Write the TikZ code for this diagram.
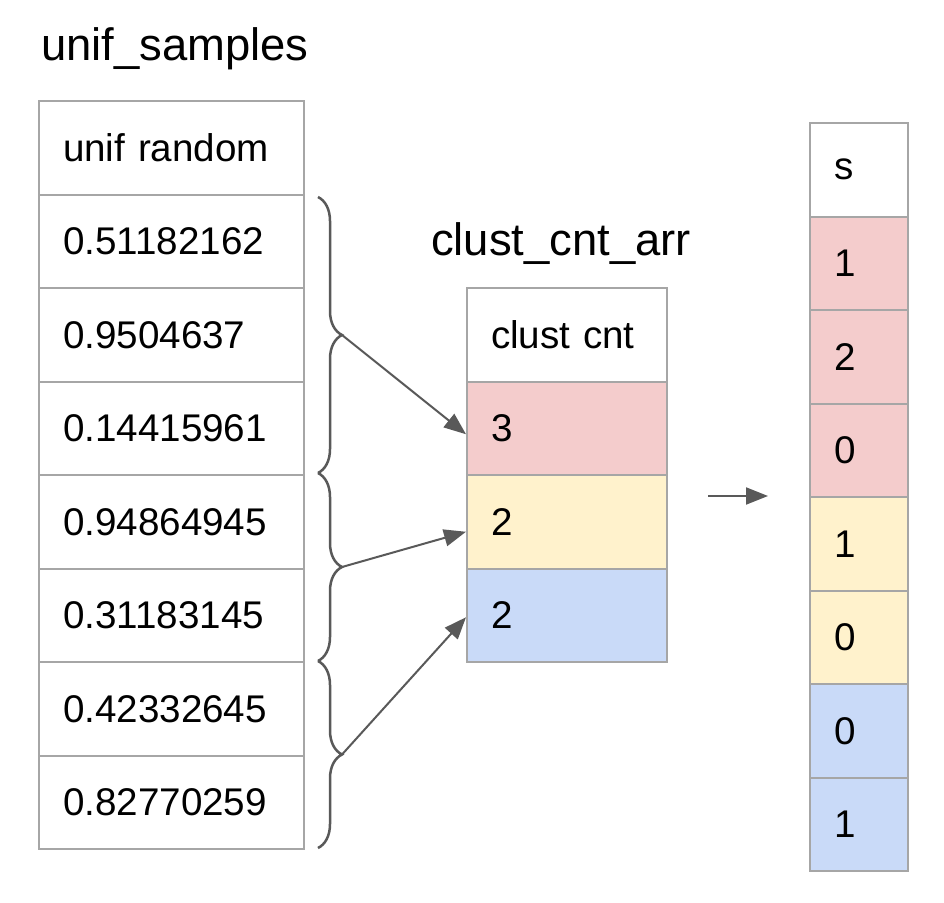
\documentclass[tikz,border=0pt]{standalone}
\usepackage{fontspec}
\setmainfont{Liberation Sans}
\usetikzlibrary{decorations.pathreplacing,arrows.meta}
\definecolor{cellborder}{HTML}{A6A6A6}
\definecolor{linegray}{HTML}{595959}
\definecolor{cpink}{HTML}{F4CCCC}
\definecolor{cyellow}{HTML}{FFF2CC}
\definecolor{cblue}{HTML}{C9DAF8}
\tikzset{
  cell/.style={draw=cellborder, line width=2pt, rectangle, anchor=north west,
    minimum height=93.5pt, inner xsep=24pt, inner ysep=0pt, align=left,
    font=\fontsize{38.6}{40}\selectfont},
  lcell/.style={cell, text width=217pt},
  mcell/.style={cell, text width=152pt},
  rcell/.style={cell, text width=50pt},
  ttl/.style={anchor=base west, inner sep=0pt, font=\fontsize{45.4}{48}\selectfont},
  brc/.style={draw=linegray, line width=2.5pt, decorate,
    decoration={brace, amplitude=24pt}},
  conn/.style={draw=linegray, line width=2pt, -{Triangle[length=22pt,width=17pt]}}
}
\begin{document}
\begin{tikzpicture}[x=1pt,y=-1pt]
\useasboundingbox (0,0) rectangle (944,902);
% titles
\node[ttl] (t1) at (41,60) {unif\_samples};
\node[ttl] (t2) at (431,255) {clust\_cnt\_arr};
% left table
\node[lcell] (l0) at (38,100) {unif random};
\node[lcell] (l1) at (38,193.5) {0.51182162};
\node[lcell] (l2) at (38,287) {0.9504637};
\node[lcell] (l3) at (38,380.5) {0.14415961};
\node[lcell] (l4) at (38,474) {0.94864945};
\node[lcell] (l5) at (38,567.5) {0.31183145};
\node[lcell] (l6) at (38,661) {0.42332645};
\node[lcell] (l7) at (38,754.5) {0.82770259};
% middle table
\node[mcell] (m0) at (466,287) {clust cnt};
\node[mcell, fill=cpink] (m1) at (466,380.5) {3};
\node[mcell, fill=cyellow] (m2) at (466,474) {2};
\node[mcell, fill=cblue] (m3) at (466,567.5) {2};
% right table
\node[rcell] (r0) at (809,122) {s};
\node[rcell, fill=cpink] (r1) at (809,215.5) {1};
\node[rcell, fill=cpink] (r2) at (809,309) {2};
\node[rcell, fill=cpink] (r3) at (809,402.5) {0};
\node[rcell, fill=cyellow] (r4) at (809,496) {1};
\node[rcell, fill=cyellow] (r5) at (809,589.5) {0};
\node[rcell, fill=cblue] (r6) at (809,683) {0};
\node[rcell, fill=cblue] (r7) at (809,776.5) {1};
% braces
\draw[brc] (318,197) -- (318,473);
\draw[brc] (318,473) -- (318,661);
\draw[brc] (318,661) -- (318,848);
\coordinate (b1) at (342,335);
\coordinate (b2) at (342,567);
\coordinate (b3) at (342,754.5);
\draw[conn] (b1) -- ([yshift=-6pt]m1.west);
\draw[conn] (b2) -- ([yshift=-10pt]m2.west);
\draw[conn] (b3) -- ([yshift=-2pt]m3.west);
% mid arrow
\coordinate (a1) at (708,496);
\coordinate (a2) at (768,496);
\draw[conn] (a1) -- (a2);
\end{tikzpicture}
\end{document}
